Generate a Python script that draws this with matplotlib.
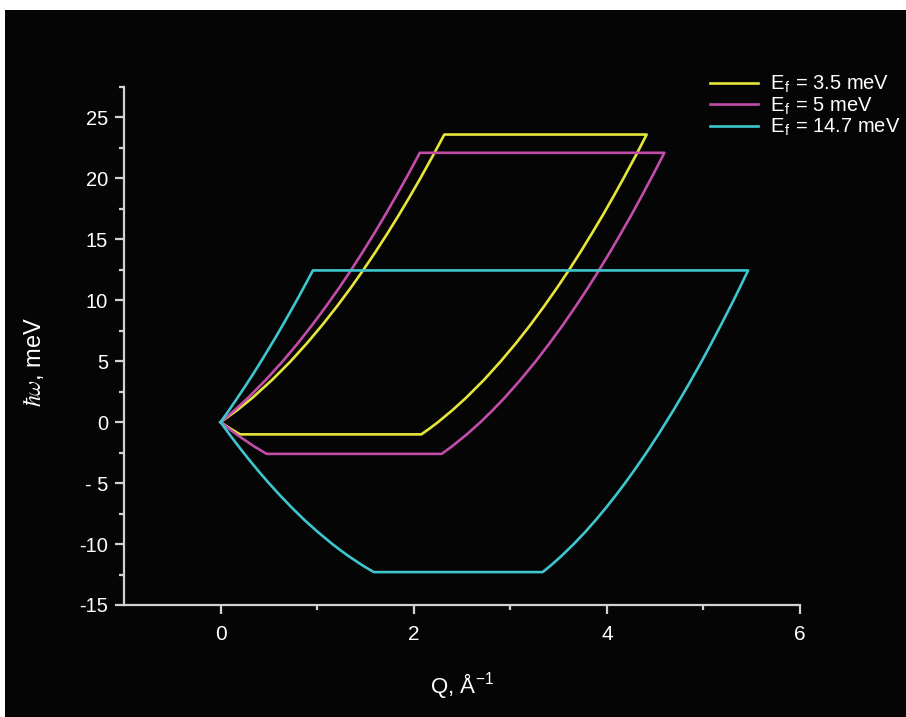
import matplotlib
matplotlib.use("Agg")
import matplotlib.pyplot as plt
from matplotlib.patches import Rectangle
from matplotlib.ticker import FixedLocator

plt.rcParams['font.family'] = ['Liberation Sans', 'DejaVu Sans']
plt.rcParams['mathtext.fontset'] = 'cm'

# Kinematic coverage outlines (Q in 1/Angstrom, energy transfer in meV)
labels = [r'E$_{\mathregular{f}}$ = 3.5 meV',
          r'E$_{\mathregular{f}}$ = 5 meV',
          r'E$_{\mathregular{f}}$ = 14.7 meV']
colors = ['#e6e63a', '#c24caa', '#3ec6cf']

q_35 = [0, 0.174, 0.330, 0.538, 0.726, 0.897, 1.056, 1.205, 1.346, 1.479,
        1.607, 1.729, 1.846, 1.959, 2.068, 2.208, 2.317,
        4.412, 4.308, 4.172, 4.067, 3.959, 3.846, 3.730, 3.609, 3.482, 3.349,
        3.210, 3.061, 2.902, 2.731, 2.542, 2.403, 2.251, 2.168, 2.079,
        0.201, 0.096, 0]
w_35 = [0, 1, 2, 3.5, 5, 6.5, 8, 9.5, 11, 12.5,
        14, 15.5, 17, 18.5, 20, 22, 23.6,
        23.6, 22, 20, 18.5, 17, 15.5, 14, 12.5, 11, 9.5,
        8, 6.5, 5, 3.5, 2, 1, 0, -0.5, -1,
        -1, -0.5, 0]

q_5 = [0, 0.148, 0.285, 0.472, 0.644, 0.803, 0.951, 1.092, 1.226, 1.353,
       1.475, 1.592, 1.705, 1.814, 1.920, 1.989, 2.063,
       4.595, 4.524, 4.458, 4.357, 4.254, 4.146, 4.036, 3.921, 3.802, 3.677,
       3.547, 3.409, 3.264, 3.108, 2.941, 2.820, 2.691, 2.550, 2.394, 2.290,
       0.477, 0.350, 0.164, 0]
w_5 = [0, 1, 2, 3.5, 5, 6.5, 8, 9.5, 11, 12.5,
       14, 15.5, 17, 18.5, 20, 21, 22.1,
       22.1, 21, 20, 18.5, 17, 15.5, 14, 12.5, 11, 9.5,
       8, 6.5, 5, 3.5, 2, 1, 0, -1, -2, -2.6,
       -2.6, -2, -1, 0]

q_147 = [0, 0.089, 0.175, 0.259, 0.341, 0.420, 0.497, 0.573, 0.646, 0.718,
         0.789, 0.858, 0.956,
         5.463, 5.435, 5.374, 5.312, 5.248, 5.183, 5.117, 5.050, 4.982, 4.911,
         4.840, 4.766, 4.691, 4.613, 4.534, 4.452, 4.367, 4.279, 4.188, 4.093,
         3.993, 3.888, 3.777, 3.657, 3.527, 3.428, 3.335,
         1.587, 1.522, 1.460, 1.327, 1.240, 1.158, 1.005, 0.865, 0.736, 0.615,
         0.500, 0.391, 0.287, 0.188, 0.092, 0]
w_147 = [0, 1, 2, 3, 4, 5, 6, 7, 8, 9,
         10, 11, 12.45,
         12.45, 12, 11, 10, 9, 8, 7, 6, 5, 4,
         3, 2, 1, 0, -1, -2, -3, -4, -5, -6,
         -7, -8, -9, -10, -11, -11.7, -12.3,
         -12.3, -12, -11.7, -11, -10.5, -10, -9, -8, -7, -6,
         -5, -4, -3, -2, -1, 0]

x_ticks = [0, 2, 4, 6]
x_minor = [1, 3, 5]
y_ticks = [-15, -10, -5, 0, 5, 10, 15, 20, 25]
y_ticklabels = ['-15', '-10', '- 5', '0', '5', '10', '15', '20', '25']
y_minor = [-12.5, -7.5, -2.5, 2.5, 7.5, 12.5, 17.5, 22.5, 27.5]

W, H = 906, 717
fig = plt.figure(figsize=(W / 100, H / 100), dpi=100, facecolor='white')
fig.patches.append(Rectangle((5 / W, 0), 1, 1 - 10 / H, transform=fig.transFigure,
                             facecolor='#050505', edgecolor='none', zorder=-10))

ax = fig.add_axes([124 / W, 1 - 605 / H, 676 / W, 518 / H])
ax.set_facecolor('#050505')

for q, w, c, lab in zip([q_35, q_5, q_147], [w_35, w_5, w_147], colors, labels):
    ax.plot(q, w, color=c, lw=1.9, label=lab, solid_joinstyle='round')

ax.set_xlim(-1, 6)
ax.set_ylim(-15, 27.5)

axis_col = '#d2d2d2'
for s in ['top', 'right']:
    ax.spines[s].set_visible(False)
for s in ['left', 'bottom']:
    ax.spines[s].set_color(axis_col)
    ax.spines[s].set_linewidth(1.6)

ax.xaxis.set_major_locator(FixedLocator(x_ticks))
ax.xaxis.set_minor_locator(FixedLocator(x_minor))
ax.set_yticks(y_ticks)
ax.set_yticklabels(y_ticklabels)
ax.yaxis.set_minor_locator(FixedLocator(y_minor))

ax.tick_params(which='both', direction='out', color=axis_col, width=1.6,
               labelcolor='white')
ax.tick_params(which='major', length=6.5)
ax.tick_params(which='minor', length=3.5)
ax.tick_params(axis='y', which='major', labelsize=14.5, pad=5)
ax.tick_params(axis='x', which='major', labelsize=15, pad=8)

ax.set_xlabel(r'Q, Å$^{\mathregular{-1}}$', color='white', fontsize=16)
ax.xaxis.set_label_coords((462 - 124) / 676, (605 - 672) / 518)
ax.set_ylabel(r'$\hbar\omega$, meV', color='white', fontsize=17)
ax.yaxis.set_label_coords((46 - 124) / 676, (605 - 362) / 518)

leg = fig.legend(loc='upper left', bbox_to_anchor=(702 / W, 1 - 66 / H),
                 frameon=False, fontsize=14.5, handlelength=2.4,
                 handletextpad=0.6, labelspacing=0.0, borderaxespad=0)
for t in leg.get_texts():
    t.set_color('white')

fig.savefig('out.png', dpi=100, facecolor=fig.get_facecolor())
